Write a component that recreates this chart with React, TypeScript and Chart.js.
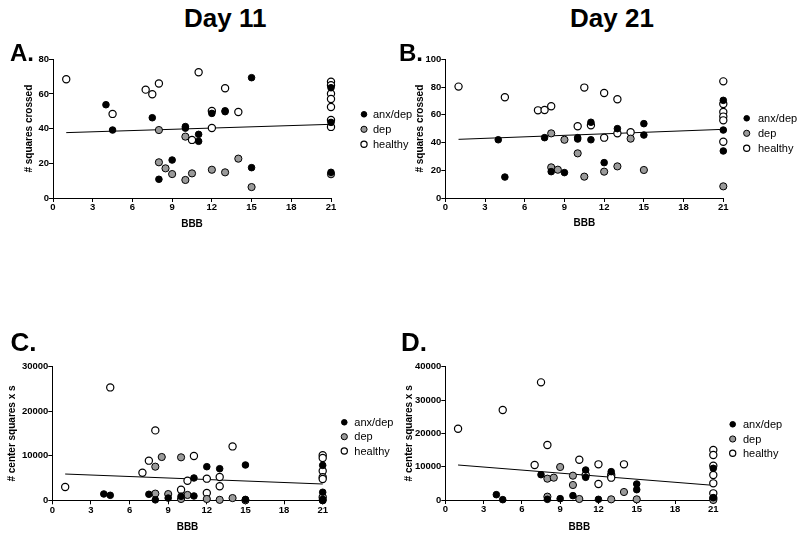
import React, { useEffect, useRef } from 'react';
import { Chart, registerables } from 'chart.js';

Chart.register(...registerables);

const FONT = '"Liberation Sans", Arial, Helvetica, sans-serif';

// ---------- data ----------
const GROUPS = ['anx/dep', 'dep', 'healthy'];
const X_LABEL = 'BBB';
const Y_LABEL_SQUARES = '# squares crossed';
const Y_LABEL_CENTER = '# center squares x s';
const X_MAX = 21;
const X_STEP = 3;

// Panel A – Day 11, squares crossed
const aAnxDep: [number, number][] = [
  [4, 53.8], [4.5, 39.2], [7.5, 46.3], [8, 10.8], [9, 21.9], [10, 41.2], [10, 40.3],
  [11, 36.7], [11, 32.7], [12, 48.8], [13, 49.8], [13, 50.3], [15, 69.4], [15, 17.5],
  [21, 63.6], [21, 43.6], [21, 14.8],
];
const aDep: [number, number][] = [
  [8, 39.2], [10, 35.4], [8, 20.6], [8.5, 17.1], [9, 13.8], [10, 10.4], [10.5, 14.2],
  [12, 16.3], [13, 14.8], [14, 22.7], [15, 6.3], [21, 13.7],
];
const aHealthy: [number, number][] = [
  [1, 68.5], [4.5, 48.5], [7, 62.5], [7.5, 59.8], [8, 66], [10.5, 33.5], [11, 72.5],
  [12, 50.2], [12, 40.4], [13, 63.3], [14, 49.6], [21, 67.1], [21, 65], [21, 60.2],
  [21, 57.1], [21, 52.5], [21, 45], [21, 41],
];
const aFit: [number, number][] = [[1, 37.7], [21, 42.5]];

// Panel B – Day 21, squares crossed
const bAnxDep: [number, number][] = [
  [4, 42], [4.5, 15.1], [7.5, 43.5], [8, 19], [9, 18.3], [10, 43.5], [10, 42.5],
  [11, 54.6], [11, 42], [12, 25.5], [13, 50], [15, 53.6], [15, 45.4], [21, 70.4],
  [21, 49], [21, 33.9],
];
const bDep: [number, number][] = [
  [8, 46.6], [8, 22.1], [8.5, 20.4], [9, 42], [10, 32.2], [10.5, 15.4], [12, 19],
  [13, 22.8], [14, 42.8], [15, 20.2], [21, 8.4],
];
const bHealthy: [number, number][] = [
  [1, 80.3], [4.5, 72.6], [7, 63.2], [7.5, 63.4], [8, 66.1], [10, 51.7], [10.5, 79.6],
  [11, 52.4], [12, 75.7], [12, 43.5], [13, 71.2], [13, 46.6], [14, 47.4], [21, 84.1],
  [21, 67.8], [21, 62], [21, 58.7], [21, 56], [21, 40.6],
];
const bFit: [number, number][] = [[1, 42.3], [21, 49.5]];

// Panel C – Day 11, center squares x s
const cAnxDep: [number, number][] = [
  [4, 1420], [4.5, 1120], [7.5, 1350], [8, 100], [9, 500], [10, 900], [11, 5010],
  [11, 970], [12, 7550], [13, 7100], [15, 7930], [15, 200], [21, 7850], [21, 1800],
  [21, 200], [21, 0],
];
const cDep: [number, number][] = [
  [8, 7550], [8, 1500], [8.5, 9720], [9, 1400], [10, 9650], [10, 300], [10.5, 1200],
  [12, 300], [13, 100], [14, 500], [15, 0], [21, 0],
];
const cHealthy: [number, number][] = [
  [1, 2990], [4.5, 25350], [7, 6200], [7.5, 8900], [8, 15700], [10, 2390], [10.5, 4400],
  [11, 9950], [12, 4860], [12, 1650], [13, 5240], [13, 3140], [14, 12100], [21, 10100],
  [21, 9500], [21, 6580], [21, 5200], [21, 4790], [21, 700],
];
const cFit: [number, number][] = [[1, 5900], [21, 3660]];

// Panel D – Day 21, center squares x s
const dAnxDep: [number, number][] = [
  [4, 1600], [4.5, 100], [7.5, 7600], [8, 200], [9, 400], [10, 1300], [11, 9000],
  [11, 6800], [12, 200], [13, 8500], [15, 4800], [15, 3100], [21, 9500], [21, 700],
];
const dDep: [number, number][] = [
  [8, 6400], [8, 1000], [8.5, 6700], [9, 9900], [10, 7300], [10, 4500], [10.5, 300],
  [13, 200], [14, 2400], [15, 200], [21, 0],
];
const dHealthy: [number, number][] = [
  [1, 21400], [4.5, 27000], [7, 10500], [7.5, 35300], [8, 16500], [10.5, 12100],
  [11, 7500], [12, 10700], [12, 4800], [13, 7500], [13, 6700], [14, 10700], [21, 15000],
  [21, 13500], [21, 10300], [21, 7500], [21, 5000], [21, 2000], [21, 500],
];
const dFit: [number, number][] = [[1, 10500], [21, 4400]];

// ---------- styles / layout ----------
const GROUP_FILL = ['#000000', '#9a9a9a', '#ffffff'];
const GROUP_RADIUS = [3.3, 3.6, 3.6];
const GROUP_BORDER = [1, 1, 1.2];

type PanelCfg = {
  left: number; top: number; w: number; h: number;
  area: { l: number; t: number; r: number; b: number };
  yMax: number; yStep: number; yLabel: string;
  yTitlePad: number; xTitlePad: number;
  legend: { mx: number; tx: number; ys: number[] };
  series: [number, number][][];
  fit: [number, number][];
};

const PANELS: PanelCfg[] = [
  {
    left: 0, top: 40, w: 440, h: 200, area: { l: 53, t: 19.3, r: 331, b: 158 },
    yMax: 80, yStep: 20, yLabel: Y_LABEL_SQUARES, yTitlePad: 23, xTitlePad: 10,
    legend: { mx: 364, tx: 373, ys: [74.3, 89.3, 104.3] },
    series: [aAnxDep, aDep, aHealthy], fit: aFit,
  },
  {
    left: 400, top: 40, w: 400, h: 200, area: { l: 45.3, t: 19.3, r: 323.3, b: 158 },
    yMax: 100, yStep: 20, yLabel: Y_LABEL_SQUARES, yTitlePad: 14.3, xTitlePad: 11,
    legend: { mx: 346.7, tx: 358, ys: [78.3, 93.3, 108.3] },
    series: [bAnxDep, bDep, bHealthy], fit: bFit,
  },
  {
    left: 0, top: 340, w: 440, h: 197, area: { l: 52.3, t: 26.7, r: 322.7, b: 160.3 },
    yMax: 30000, yStep: 10000, yLabel: Y_LABEL_CENTER, yTitlePad: 6.5, xTitlePad: 4,
    legend: { mx: 344.3, tx: 354.3, ys: [82.3, 96.7, 111] },
    series: [cAnxDep, cDep, cHealthy], fit: cFit,
  },
  {
    left: 400, top: 340, w: 400, h: 197, area: { l: 45.3, t: 26.7, r: 313.3, b: 160 },
    yMax: 40000, yStep: 10000, yLabel: Y_LABEL_CENTER, yTitlePad: 3, xTitlePad: 4,
    legend: { mx: 332.7, tx: 343, ys: [84.3, 99, 113.3] },
    series: [dAnxDep, dDep, dHealthy], fit: dFit,
  },
];

const legendPlugin = {
  id: 'sideLegend',
  afterDraw(chart: any, _args: any, opts: any) {
    const ctx = chart.ctx;
    ctx.save();
    ctx.font = `11px ${FONT}`;
    ctx.textBaseline = 'middle';
    ctx.textAlign = 'left';
    for (let i = 0; i < 3; i++) {
      const ds = chart.data.datasets[i];
      const y = opts.ys[i];
      ctx.beginPath();
      ctx.arc(opts.mx, y, i === 0 ? 2.8 : 3.1, 0, Math.PI * 2);
      ctx.fillStyle = ds.pointBackgroundColor;
      ctx.fill();
      ctx.lineWidth = ds.pointBorderWidth;
      ctx.strokeStyle = '#000';
      ctx.stroke();
      ctx.fillStyle = '#000';
      ctx.fillText(ds.label, opts.tx, y + 0.5);
    }
    ctx.restore();
  },
};

function Panel({ cfg }: { cfg: PanelCfg }) {
  const ref = useRef<HTMLCanvasElement>(null);
  useEffect(() => {
    const a = cfg.area;
    const datasets: any[] = cfg.series.map((pts, i) => ({
      label: GROUPS[i],
      data: pts.map(([x, y]) => ({ x, y })),
      pointRadius: GROUP_RADIUS[i],
      pointBackgroundColor: GROUP_FILL[i],
      pointBorderColor: '#000',
      pointBorderWidth: GROUP_BORDER[i],
      backgroundColor: GROUP_FILL[i],
      borderColor: '#000',
      showLine: false,
      clip: false,
    }));
    datasets.push({
      label: 'fit',
      data: cfg.fit.map(([x, y]) => ({ x, y })),
      showLine: true,
      pointRadius: 0,
      borderColor: '#000',
      borderWidth: 1,
      clip: false,
    });
    const tickFont = { family: FONT, size: 9.5, weight: 'bold' as const };
    const titleFont = { family: FONT, size: 10, weight: 'bold' as const };
    const chart = new Chart(ref.current!, {
      type: 'scatter',
      data: { datasets },
      plugins: [legendPlugin],
      options: {
        responsive: false,
        animation: false,
        events: [],
        layout: { padding: { left: 0, top: a.t, right: cfg.w - a.r, bottom: 0 } },
        plugins: {
          legend: { display: false },
          tooltip: { enabled: false },
          sideLegend: cfg.legend,
        } as any,
        scales: {
          x: {
            type: 'linear',
            min: 0,
            max: X_MAX,
            afterFit: (s: any) => { s.height = cfg.h - a.b; },
            ticks: { stepSize: X_STEP, color: '#000', font: tickFont, padding: 0, maxRotation: 0, callback: (v: any) => String(v) },
            grid: { drawOnChartArea: false, drawTicks: true, tickLength: 4, color: '#000', lineWidth: 1 },
            border: { display: true, color: '#000', width: 1 },
            title: { display: true, text: X_LABEL, color: '#000', font: titleFont, padding: { top: 0, bottom: cfg.xTitlePad } },
          },
          y: {
            type: 'linear',
            min: 0,
            max: cfg.yMax,
            afterFit: (s: any) => { s.width = a.l; },
            ticks: { stepSize: cfg.yStep, color: '#000', font: tickFont, padding: 0, callback: (v: any) => String(v) },
            grid: { drawOnChartArea: false, drawTicks: true, tickLength: 4, color: '#000', lineWidth: 1 },
            border: { display: true, color: '#000', width: 1 },
            title: { display: true, text: cfg.yLabel, color: '#000', font: titleFont, padding: { top: cfg.yTitlePad, bottom: 0 } },
          },
        },
      } as any,
    });
    return () => chart.destroy();
  }, [cfg]);
  return (
    <canvas
      ref={ref}
      width={cfg.w}
      height={cfg.h}
      style={{ position: 'absolute', left: cfg.left, top: cfg.top, width: cfg.w, height: cfg.h }}
    />
  );
}

const textBase: React.CSSProperties = {
  position: 'absolute',
  fontFamily: FONT,
  fontWeight: 'bold',
  color: '#000',
  whiteSpace: 'nowrap',
  lineHeight: 1,
  margin: 0,
};

export default function App() {
  return (
    <div style={{ position: 'absolute', left: 0, top: 0, width: 800, height: 537, background: '#fff', overflow: 'hidden' }}>
      <div style={{ ...textBase, left: 184, top: 4.7, fontSize: 26 }}>Day 11</div>
      <div style={{ ...textBase, left: 570, top: 4.7, fontSize: 26 }}>Day 21</div>
      {PANELS.map((p, i) => <Panel key={i} cfg={p} />)}
      <div style={{ ...textBase, left: 10, top: 41.4, fontSize: 24 }}>A.</div>
      <div style={{ ...textBase, left: 399, top: 41.4, fontSize: 24 }}>B.</div>
      <div style={{ ...textBase, left: 10.5, top: 329, fontSize: 26 }}>C.</div>
      <div style={{ ...textBase, left: 401, top: 329, fontSize: 26 }}>D.</div>
    </div>
  );
}
